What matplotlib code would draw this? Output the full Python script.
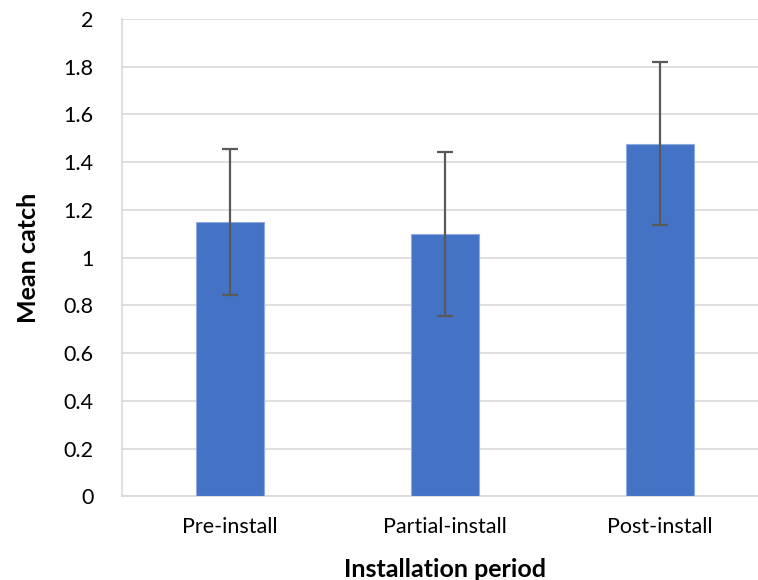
import matplotlib.pyplot as plt
import numpy as np

# Data
periods = ['Pre-install', 'Partial-install', 'Post-install']
mean_catch = [1.15, 1.10, 1.478]
errors = [0.307, 0.344, 0.34]

plt.rcParams['font.family'] = ['Lato', 'DejaVu Sans']

fig = plt.figure(figsize=(7.58, 5.8), dpi=100)
ax = fig.add_axes([0.1616, 0.144, 0.851, 0.8233])

x = np.arange(len(periods))
ax.bar(x, mean_catch, width=0.313, color='#4472C4', edgecolor='#8FAADC',
       linewidth=0.8, zorder=3)
ax.errorbar(x, mean_catch, yerr=errors, fmt='none', ecolor='#595959',
            elinewidth=1.6, capsize=6, capthick=1.6, zorder=4)

ax.set_xlim(-0.5, 2.5)
ax.set_ylim(0, 2)
ax.set_yticks(np.arange(0, 2.01, 0.2))
ax.set_yticklabels(['0', '0.2', '0.4', '0.6', '0.8', '1', '1.2', '1.4', '1.6', '1.8', '2'])
ax.set_xticks(x)
ax.set_xticklabels(periods)

ax.yaxis.grid(True, color='#D9D9D9', linewidth=1.2, zorder=0)
ax.set_axisbelow(True)
for side in ['top', 'right']:
    ax.spines[side].set_visible(False)
ax.spines['left'].set_color('#D9D9D9')
ax.spines['bottom'].set_color('#D9D9D9')
ax.spines['left'].set_linewidth(1.2)
ax.spines['bottom'].set_linewidth(1.2)
ax.tick_params(axis='both', length=0, labelsize=15.5, colors='black')
ax.tick_params(axis='y', pad=21)
ax.tick_params(axis='x', pad=15)

ax.set_xlabel('Installation period', fontsize=18, fontweight='bold', labelpad=15)
ax.set_ylabel('Mean catch', fontsize=18, fontweight='bold', labelpad=17)

fig.savefig('out.png', dpi=100)
